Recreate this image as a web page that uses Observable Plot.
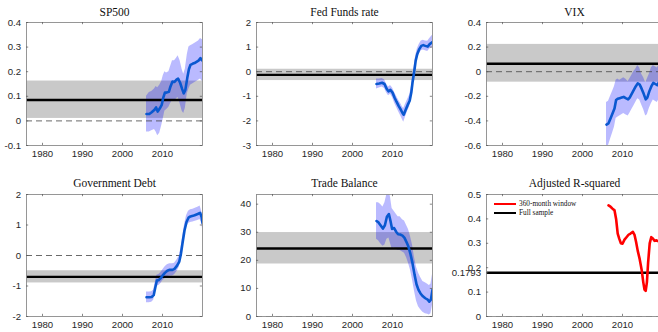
<!DOCTYPE html>
<html>
<head>
<meta charset="utf-8">
<script src="https://cdn.jsdelivr.net/npm/d3@7"></script>
<script src="https://cdn.jsdelivr.net/npm/@observablehq/plot@0.6"></script>
<style>
  html, body { margin: 0; padding: 0; background: #fff; overflow: hidden; }
  #wrap { position: relative; width: 658px; height: 332px; overflow: hidden; background: #fff; }
  .panel { position: absolute; }
  .legend { position: absolute; font-family: "Liberation Serif", "DejaVu Serif", serif; font-size: 7.3px; color: #111; line-height: 9px; }
  .legend .row { position: absolute; white-space: nowrap; }
  .legend .sw { position: absolute; width: 22px; height: 0; }
  .legend .lab { position: absolute; }
</style>
</head>
<body>
<div id="wrap"></div>
<script>
// ---------- shared axis data ----------
const xDomain = [1976, 2020];
const xTicks = [1980, 1990, 2000, 2010];

// ---------- SP500 ----------
const sp500Title = "SP500";
const sp500T   = [2006.0,2006.7,2007.3,2008.0,2008.4,2008.8,2009.3,2009.8,2010.2,2010.6,2011.0,2011.6,2012.0,2012.5,2013.0,2013.5,2013.9,2014.4,2014.9,2015.3,2015.7,2016.2,2016.6,2017.0,2017.5,2018.0,2018.5,2019.0,2019.5,2020.0];
const sp500Est = [0.028,0.028,0.035,0.045,0.055,0.038,0.05,0.065,0.095,0.115,0.115,0.118,0.14,0.16,0.158,0.168,0.172,0.155,0.13,0.112,0.125,0.175,0.21,0.228,0.232,0.235,0.24,0.245,0.255,0.245];
const sp500Lo  = [-0.045,-0.045,-0.04,-0.035,-0.045,-0.06,-0.05,-0.02,0.01,0.04,0.045,0.055,0.07,0.085,0.08,0.09,0.095,0.07,0.04,0.03,0.05,0.11,0.13,0.145,0.15,0.155,0.16,0.165,0.17,0.16];
const sp500Hi  = [0.10,0.115,0.12,0.13,0.14,0.135,0.145,0.16,0.185,0.20,0.195,0.20,0.22,0.245,0.245,0.255,0.265,0.245,0.21,0.19,0.21,0.27,0.30,0.305,0.31,0.315,0.32,0.325,0.335,0.33];
const sp500Full = [0.085, 0.01, 0.162];   // estimate, lower, upper
const sp500YDomain = [-0.1, 0.4];
const sp500YTicks = [-0.1, 0, 0.1, 0.2, 0.3, 0.4];

// ---------- Fed Funds rate ----------
const fedTitle = "Fed Funds rate";
const fedT   = [2006.0,2006.7,2007.4,2008.0,2008.5,2009.0,2009.5,2010.0,2010.5,2011.0,2011.5,2012.0,2012.5,2012.8,2013.3,2013.8,2014.3,2014.7,2015.0,2015.4,2015.8,2016.2,2016.7,2017.2,2017.7,2018.2,2018.8,2019.3,2020.0];
const fedEst = [-0.50,-0.48,-0.45,-0.50,-0.68,-0.80,-0.74,-0.85,-1.05,-1.22,-1.38,-1.52,-1.68,-1.75,-1.55,-1.35,-1.18,-0.85,-0.45,-0.03,0.45,0.72,0.92,1.05,1.08,1.05,1.02,1.12,1.20];
const fedLo  = [-0.70,-0.66,-0.62,-0.68,-0.86,-0.98,-0.92,-1.05,-1.27,-1.45,-1.62,-1.78,-1.95,-2.05,-1.82,-1.60,-1.42,-1.08,-0.68,-0.25,0.25,0.52,0.72,0.85,0.88,0.85,0.82,0.92,0.98];
const fedHi  = [-0.30,-0.30,-0.28,-0.33,-0.50,-0.62,-0.56,-0.66,-0.84,-1.00,-1.15,-1.28,-1.44,-1.50,-1.30,-1.12,-0.95,-0.62,-0.22,0.18,0.65,0.92,1.12,1.25,1.28,1.25,1.24,1.35,1.48];
const fedFull = [-0.13, -0.36, 0.1];
const fedYDomain = [-3, 2];
const fedYTicks = [-3, -2, -1, 0, 1, 2];

// ---------- VIX ----------
const vixTitle = "VIX";
const vixT   = [2006.0,2006.5,2007.0,2007.5,2008.0,2008.4,2008.8,2009.3,2009.8,2010.3,2010.8,2011.4,2011.8,2012.3,2012.8,2013.3,2013.8,2014.3,2014.8,2015.3,2015.8,2016.2,2016.7,2017.2,2017.7,2018.2,2018.7,2019.2,2019.7,2020.0];
const vixEst = [-0.43,-0.42,-0.38,-0.34,-0.30,-0.23,-0.22,-0.215,-0.21,-0.205,-0.215,-0.225,-0.21,-0.18,-0.15,-0.12,-0.095,-0.105,-0.14,-0.18,-0.225,-0.21,-0.16,-0.12,-0.09,-0.10,-0.11,-0.08,-0.07,-0.10];
const vixLo  = [-0.60,-0.60,-0.55,-0.50,-0.45,-0.38,-0.37,-0.36,-0.35,-0.34,-0.35,-0.36,-0.34,-0.31,-0.28,-0.25,-0.22,-0.23,-0.27,-0.31,-0.36,-0.35,-0.30,-0.26,-0.23,-0.24,-0.25,-0.22,-0.21,-0.24];
const vixHi  = [-0.25,-0.24,-0.20,-0.16,-0.12,-0.07,-0.06,-0.07,-0.06,-0.05,-0.06,-0.08,-0.06,-0.03,0.0,0.02,0.05,0.03,-0.02,-0.05,-0.09,-0.06,-0.02,0.03,0.05,0.04,0.03,0.06,0.07,0.04];
const vixFull = [0.065, -0.085, 0.222];
const vixYDomain = [-0.6, 0.4];
const vixYTicks = [-0.6, -0.4, -0.2, 0, 0.2, 0.4];

// ---------- Government Debt ----------
const debtTitle = "Government Debt";
const debtT   = [2006.0,2006.7,2007.3,2007.8,2008.2,2008.6,2009.1,2009.6,2010.0,2010.6,2011.2,2011.8,2012.5,2013.0,2013.6,2014.2,2014.6,2015.0,2015.5,2016.0,2016.5,2017.0,2017.6,2018.2,2018.8,2019.4,2019.8,2020.0];
const debtEst = [-1.37,-1.37,-1.36,-1.30,-1.05,-0.82,-0.80,-0.74,-0.66,-0.57,-0.50,-0.47,-0.47,-0.44,-0.34,-0.20,0.05,0.40,0.82,1.10,1.24,1.28,1.30,1.33,1.36,1.40,1.25,1.07];
const debtLo  = [-1.55,-1.55,-1.53,-1.47,-1.22,-1.00,-0.98,-0.92,-0.84,-0.76,-0.70,-0.67,-0.67,-0.63,-0.53,-0.38,-0.13,0.22,0.64,0.92,1.05,1.08,1.10,1.12,1.15,1.18,1.05,0.88];
const debtHi  = [-1.20,-1.20,-1.19,-1.13,-0.88,-0.65,-0.62,-0.56,-0.48,-0.38,-0.30,-0.27,-0.27,-0.25,-0.15,-0.02,0.23,0.58,1.00,1.30,1.45,1.50,1.52,1.55,1.58,1.62,1.45,1.28];
const debtFull = [-0.7, -0.9, -0.5];
const debtYDomain = [-2, 2];
const debtYTicks = [-2, -1, 0, 1, 2];

// ---------- Trade Balance ----------
const tradeTitle = "Trade Balance";
const tradeT   = [2006.0,2006.5,2007.0,2007.6,2008.1,2008.6,2009.1,2009.5,2009.9,2010.4,2010.9,2011.4,2011.9,2012.5,2013.0,2013.5,2014.0,2014.5,2015.0,2015.5,2016.0,2016.5,2017.0,2017.6,2018.2,2018.8,2019.2,2019.6,2020.0];
const tradeEst = [34.0,33.5,32.5,31.3,32.5,35.5,36.5,34.0,31.2,31.5,30.2,29.3,29.2,28.8,28.0,26.5,24.8,22.2,19.0,15.0,11.5,9.5,8.2,7.2,6.5,6.0,5.3,6.0,9.5];
const tradeLo  = [27.5,27.0,26.0,25.0,25.5,27.5,28.0,26.0,24.0,24.5,24.0,23.5,23.5,23.0,22.5,21.0,19.0,16.5,13.0,9.0,5.5,3.5,2.5,1.5,1.0,0.8,0.5,1.0,4.0];
const tradeHi  = [40.5,40.5,40.0,39.0,40.5,43.5,45.0,42.5,38.5,37.5,36.5,35.5,35.5,34.5,34.0,32.5,31.0,28.5,25.5,21.0,17.5,15.5,14.0,12.5,12.0,11.5,11.0,11.5,15.0];
const tradeFull = [24.2, 18.7, 29.9];
const tradeYDomain = [0, 43.45];
const tradeYTicks = [0, 10, 20, 30, 40];

// ---------- Adjusted R-squared ----------
const r2Title = "Adjusted R-squared";
const r2T   = [2006.5,2007.0,2007.5,2008.0,2008.4,2008.8,2009.2,2009.6,2010.0,2010.5,2011.0,2011.5,2012.0,2012.6,2013.0,2013.4,2013.8,2014.3,2014.8,2015.2,2015.5,2015.8,2016.1,2016.4,2016.8,2017.2,2017.6,2018.0,2018.5,2019.0,2019.5,2020.0];
const r2Val = [0.455,0.450,0.442,0.435,0.40,0.34,0.318,0.30,0.298,0.315,0.325,0.335,0.34,0.347,0.335,0.305,0.27,0.235,0.19,0.14,0.11,0.105,0.14,0.22,0.30,0.325,0.32,0.31,0.312,0.308,0.31,0.31];
const r2Full = 0.1793;
const r2YDomain = [0, 0.5];
const r2YTicks = [0, 0.1, 0.1793, 0.2, 0.3, 0.4, 0.5];
const r2Legend = ["360-month window", "Full sample"];

// ---------- drawing ----------
const BLUE = "#0a58d0";
const wrap = document.getElementById("wrap");

function makePanel(cfg) {
  const W = 228, H = 166, plotW = 176;
  const mt = cfg.row === 0 ? 22 : 28;
  const plotH = cfg.row === 0 ? 123 : 122;
  const mb = H - mt - plotH;
  const rows = cfg.t.map((t, i) => ({
    t, est: cfg.est[i],
    lo: cfg.lo ? cfg.lo[i] : null,
    hi: cfg.hi ? cfg.hi[i] : null
  }));
  const marks = [];
  if (cfg.fullBand) {
    marks.push(Plot.rect([{x1: xDomain[0], x2: xDomain[1], y1: cfg.fullBand[0], y2: cfg.fullBand[1]}],
      {x1: "x1", x2: "x2", y1: "y1", y2: "y2", fill: "#c9c9c9"}));
  }
  if (cfg.lo) {
    marks.push(Plot.areaY(rows, {x: "t", y1: "lo", y2: "hi", fill: "#0000ff", fillOpacity: 0.27, clip: true}));
  }
  marks.push(Plot.ruleY([cfg.full], {stroke: "#000", strokeWidth: 2.4}));
  marks.push(Plot.ruleY([0], {stroke: "#444", strokeWidth: 0.8, strokeDasharray: "6,4"}));
  marks.push(Plot.line(rows, {x: "t", y: "est", stroke: cfg.color, strokeWidth: 2.6, clip: true}));
  marks.push(Plot.frame({stroke: "#8c8c8c", strokeWidth: 0.9}));
  // inward ticks on all four sides
  const tl = 2.2;
  marks.push(Plot.ruleX(xTicks, {stroke: "#555", strokeWidth: 0.7, insetTop: plotH - tl}));
  marks.push(Plot.ruleX(xTicks, {stroke: "#555", strokeWidth: 0.7, insetBottom: plotH - tl}));
  marks.push(Plot.ruleY(cfg.yTicks, {stroke: "#555", strokeWidth: 0.7, insetRight: plotW - tl}));
  marks.push(Plot.ruleY(cfg.yTicks, {stroke: "#555", strokeWidth: 0.7, insetLeft: plotW - tl}));
  marks.push(Plot.axisX(xTicks, {tickSize: 0, tickPadding: 5, tickFormat: d => String(d), label: null}));
  marks.push(Plot.axisY(cfg.yTicks, {tickSize: 0, tickPadding: 5.5, tickFormat: d => String(d), label: null}));
  marks.push(Plot.text([cfg.title], {
    text: d => d, frameAnchor: "top", lineAnchor: "middle", dy: cfg.row === 0 ? -10.3 : -11.3,
    fontFamily: "'Liberation Serif', 'DejaVu Serif', serif", fontSize: 11.5, fill: "#111"
  }));
  const svg = Plot.plot({
    width: W, height: H,
    marginLeft: 26, marginRight: W - 26 - plotW, marginTop: mt, marginBottom: mb,
    x: {domain: xDomain, label: null},
    y: {domain: cfg.yDomain, label: null},
    style: {fontFamily: "'Liberation Sans', Arial, sans-serif", fontSize: "9.6px", color: "#262626", background: "transparent", overflow: "visible"},
    marks
  });
  svg.classList.add("panel");
  svg.style.left = (cfg.col * 230) + "px";
  svg.style.top = (cfg.row * 166) + "px";
  wrap.appendChild(svg);
}

makePanel({title: sp500Title, t: sp500T, est: sp500Est, lo: sp500Lo, hi: sp500Hi, full: sp500Full[0], fullBand: [sp500Full[1], sp500Full[2]], yDomain: sp500YDomain, yTicks: sp500YTicks, col: 0, row: 0, color: BLUE});
makePanel({title: fedTitle, t: fedT, est: fedEst, lo: fedLo, hi: fedHi, full: fedFull[0], fullBand: [fedFull[1], fedFull[2]], yDomain: fedYDomain, yTicks: fedYTicks, col: 1, row: 0, color: BLUE});
makePanel({title: vixTitle, t: vixT, est: vixEst, lo: vixLo, hi: vixHi, full: vixFull[0], fullBand: [vixFull[1], vixFull[2]], yDomain: vixYDomain, yTicks: vixYTicks, col: 2, row: 0, color: BLUE});
makePanel({title: debtTitle, t: debtT, est: debtEst, lo: debtLo, hi: debtHi, full: debtFull[0], fullBand: [debtFull[1], debtFull[2]], yDomain: debtYDomain, yTicks: debtYTicks, col: 0, row: 1, color: BLUE});
makePanel({title: tradeTitle, t: tradeT, est: tradeEst, lo: tradeLo, hi: tradeHi, full: tradeFull[0], fullBand: [tradeFull[1], tradeFull[2]], yDomain: tradeYDomain, yTicks: tradeYTicks, col: 1, row: 1, color: BLUE});
makePanel({title: r2Title, t: r2T, est: r2Val, lo: null, hi: null, full: r2Full, fullBand: null, yDomain: r2YDomain, yTicks: r2YTicks, col: 2, row: 1, color: "#ff0000"});

// legend inside the Adjusted R-squared panel
const leg = document.createElement("div");
leg.className = "legend";
leg.style.left = "494px";
leg.style.top = "199px";
const legColors = ["#ff0000", "#000000"];
r2Legend.forEach((label, i) => {
  const row = document.createElement("div");
  row.className = "row";
  row.style.top = (i * 9) + "px";
  const sw = document.createElement("div");
  sw.className = "sw";
  sw.style.left = "0px";
  sw.style.top = "4px";
  sw.style.borderTop = "2.2px solid " + legColors[i];
  const lab = document.createElement("div");
  lab.className = "lab";
  lab.style.left = "25px";
  lab.style.top = "0px";
  lab.textContent = label;
  row.appendChild(sw);
  row.appendChild(lab);
  leg.appendChild(row);
});
wrap.appendChild(leg);
</script>
</body>
</html>
